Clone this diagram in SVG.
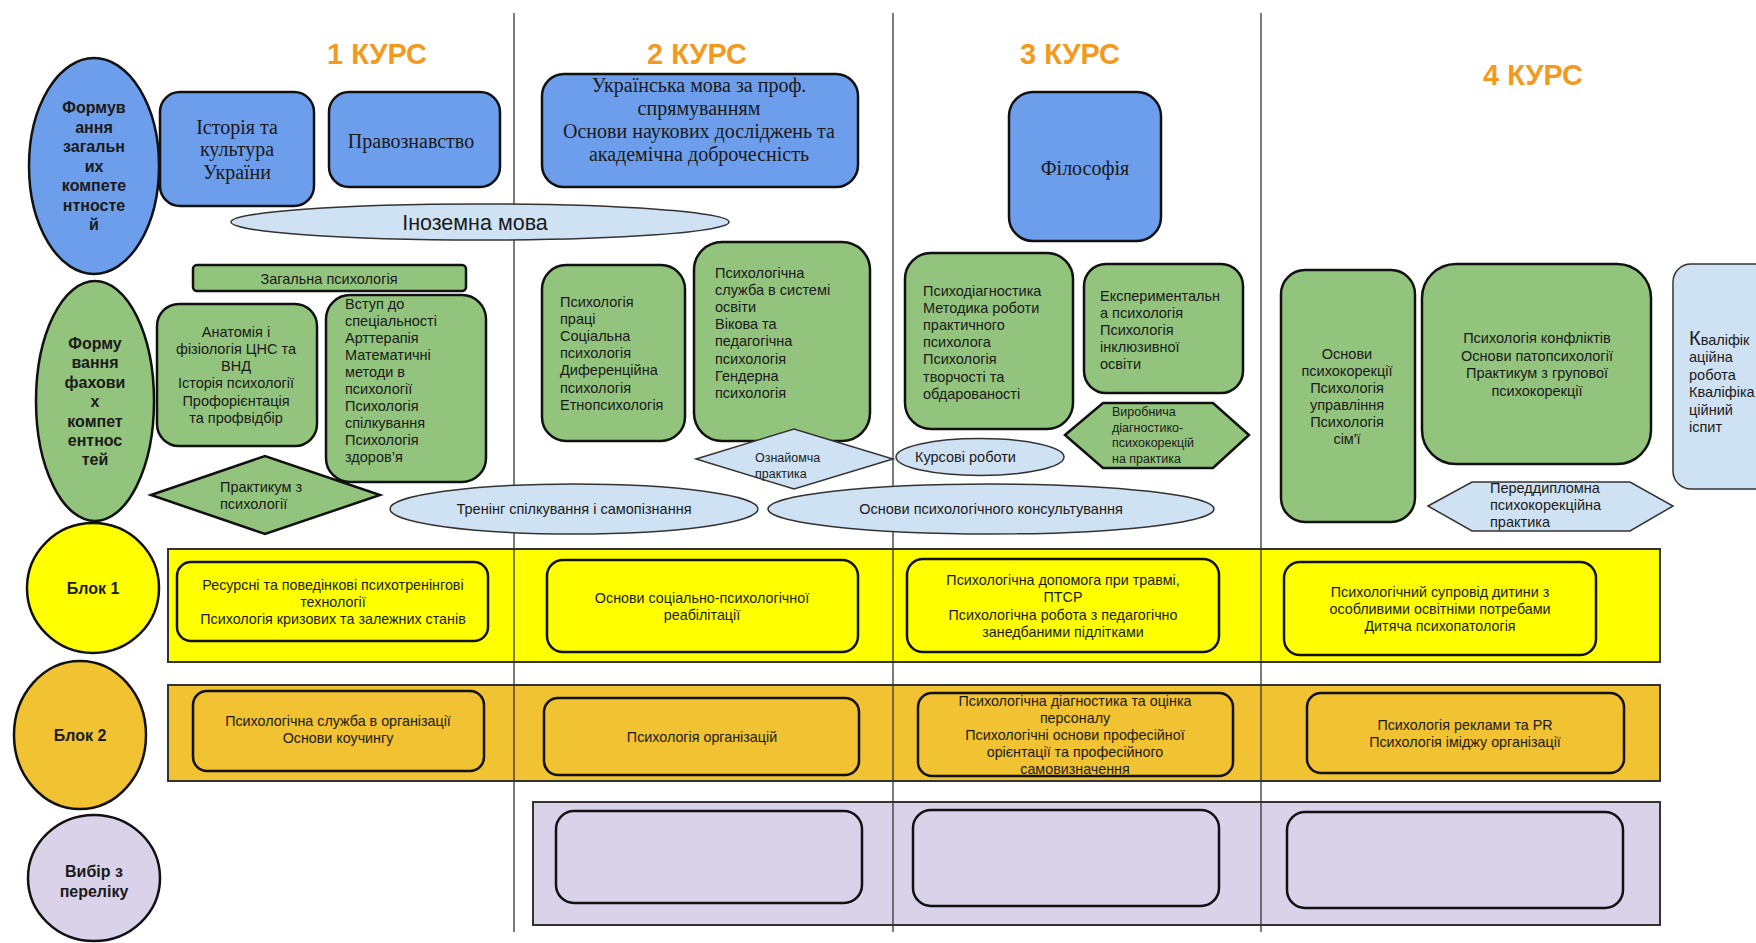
<svg xmlns="http://www.w3.org/2000/svg" width="1756" height="943" viewBox="0 0 1756 943">
<style>
.s{font-family:"Liberation Sans",Arial,sans-serif;font-size:14.5px;fill:#1a1a1a}
.sm{font-size:12.5px}
.blk{font-size:14.3px}
.lbl{font-size:16px}
.sf{font-family:"Liberation Serif","Times New Roman",serif;font-size:20px;fill:#1a1a1a}
.b{font-weight:bold}
.c{text-anchor:middle}
.ttl{font-family:"Liberation Sans",Arial,sans-serif;font-weight:bold;font-size:30px;fill:#f39a1e;text-anchor:middle}
.blue{fill:#6d9eeb;stroke:#111;stroke-width:2.5}
.green{fill:#93c47d;stroke:#111;stroke-width:2.5}
.lb{fill:#cfe2f3;stroke:#333;stroke-width:1.5}
.yel{fill:#ffff00;stroke:#111;stroke-width:2.5}
.org{fill:#f1c232;stroke:#111;stroke-width:2.5}
.lav{fill:#d9d2e9;stroke:#111;stroke-width:2.5}
.band{stroke:#333;stroke-width:2}
.vl{stroke:#333;stroke-width:1.3}
</style>

<g id="titles">
<text class="ttl" x="377" y="64" textLength="100" lengthAdjust="spacingAndGlyphs">1 КУРС</text>
<text class="ttl" x="697" y="64" textLength="100" lengthAdjust="spacingAndGlyphs">2 КУРС</text>
<text class="ttl" x="1070" y="64" textLength="100" lengthAdjust="spacingAndGlyphs">3 КУРС</text>
<text class="ttl" x="1533" y="85" textLength="100" lengthAdjust="spacingAndGlyphs">4 КУРС</text>
</g>

<g id="bands">
<rect id="band-blok1" class="band" x="168" y="549" width="1492" height="113" fill="#ffff00"/>
<rect id="band-blok2" class="band" x="168" y="685" width="1492" height="96" fill="#f1c232"/>
<rect id="band-vybir" class="band" x="533" y="802" width="1127" height="123" fill="#d9d2e9"/>
</g>

<g id="connectors">
<line class="vl" x1="514" y1="13" x2="514" y2="932"/>
<line class="vl" x1="893" y1="13" x2="893" y2="932"/>
<line class="vl" x1="1261" y1="13" x2="1261" y2="932"/>
</g>

<g id="row-labels">
<g id="zagalni">
<ellipse class="blue" cx="94" cy="166" rx="65" ry="108"/>
<text class="s lbl b c" x="94" y="113"><tspan x="94">Формув</tspan><tspan x="94" dy="19.5">ання</tspan><tspan x="94" dy="19.5">загальн</tspan><tspan x="94" dy="19.5">их</tspan><tspan x="94" dy="19.5">компете</tspan><tspan x="94" dy="19.5">нтносте</tspan><tspan x="94" dy="19.5">й</tspan></text>
</g>
<g id="fakhovi">
<ellipse class="green" cx="95" cy="401" rx="59" ry="120"/>
<text class="s lbl b c" x="95" y="349"><tspan x="95">Форму</tspan><tspan x="95" dy="19.4">вання</tspan><tspan x="95" dy="19.4">фахови</tspan><tspan x="95" dy="19.4">х</tspan><tspan x="95" dy="19.4">компет</tspan><tspan x="95" dy="19.4">ентнос</tspan><tspan x="95" dy="19.4">тей</tspan></text>
</g>
<g id="blok1">
<ellipse class="yel" cx="93" cy="588" rx="66" ry="65"/>
<text class="s lbl b c" x="93" y="594">Блок 1</text>
</g>
<g id="blok2">
<ellipse class="org" cx="80" cy="735" rx="66" ry="74"/>
<text class="s lbl b c" x="80" y="741">Блок 2</text>
</g>
<g id="vybir">
<ellipse class="lav" cx="94" cy="878" rx="66" ry="63"/>
<text class="s lbl b c" x="94" y="877"><tspan x="94">Вибір з</tspan><tspan x="94" dy="20">переліку</tspan></text>
</g>
</g>

<g id="istoriya">
<rect class="blue" x="160" y="92" width="154" height="114" rx="20"/>
<text class="sf c" x="237" y="133.5"><tspan x="237">Історія та</tspan><tspan x="237" dy="22.5">культура</tspan><tspan x="237" dy="22.5">України</tspan></text>
</g>
<g id="pravoznavstvo">
<rect class="blue" x="329" y="92" width="171" height="95" rx="20"/>
<text class="sf c" x="411" y="147.5">Правознавство</text>
</g>
<g id="ukr-mova">
<rect class="blue" x="542" y="74" width="316" height="113" rx="22"/>
<text class="sf c" x="699" y="91.5"><tspan x="699">Українська мова за проф.</tspan><tspan x="699" dy="23.3">спрямуванням</tspan><tspan x="699" dy="23.3">Основи наукових досліджень та</tspan><tspan x="699" dy="23.3">академічна доброчесність</tspan></text>
</g>
<g id="filosofiya">
<rect class="blue" x="1009" y="92" width="152" height="149" rx="24"/>
<text class="sf c" x="1085" y="174.5">Філософія</text>
</g>
<g id="inozemna">
<ellipse class="lb" cx="480" cy="222" rx="249" ry="18"/>
<text class="s c" style="font-size:21.5px" x="475" y="230">Іноземна мова</text>
</g>

<g id="zagalna-psykh">
<rect class="green" x="193" y="265" width="273" height="26" rx="4"/>
<text class="s c" x="329" y="284">Загальна психологія</text>
</g>
<g id="anatomiya">
<rect class="green" x="157" y="304" width="160" height="142" rx="22"/>
<text class="s c" x="236" y="336.5"><tspan x="236">Анатомія і</tspan><tspan x="236" dy="17.3">фізіологія ЦНС та</tspan><tspan x="236" dy="17.3">ВНД</tspan><tspan x="236" dy="17.3">Історія психології</tspan><tspan x="236" dy="17.3">Профорієнтація</tspan><tspan x="236" dy="17.3">та профвідбір</tspan></text>
</g>
<g id="vstup">
<rect class="green" x="326" y="295" width="160" height="187" rx="24"/>
<text class="s" x="345" y="308.5"><tspan x="345">Вступ до</tspan><tspan x="345" dy="17.1">спеціальності</tspan><tspan x="345" dy="17.1">Арттерапія</tspan><tspan x="345" dy="17.1">Математичні</tspan><tspan x="345" dy="17.1">методи в</tspan><tspan x="345" dy="17.1">психології</tspan><tspan x="345" dy="17.1">Психологія</tspan><tspan x="345" dy="17.1">спілкування</tspan><tspan x="345" dy="17.1">Психологія</tspan><tspan x="345" dy="17.1">здоров’я</tspan></text>
</g>
<g id="praktykum">
<polygon class="green" points="151,495 265,456 380,495 265,534"/>
<text class="s" x="220" y="492"><tspan x="220">Практикум з</tspan><tspan x="220" dy="17">психології</tspan></text>
</g>

<g id="psykh-pratsi">
<rect class="green" x="542" y="265" width="143" height="176" rx="24"/>
<text class="s" x="560" y="307"><tspan x="560">Психологія</tspan><tspan x="560" dy="17.1">праці</tspan><tspan x="560" dy="17.1">Соціальна</tspan><tspan x="560" dy="17.1">психологія</tspan><tspan x="560" dy="17.1">Диференційна</tspan><tspan x="560" dy="17.1">психологія</tspan><tspan x="560" dy="17.1">Етнопсихологія</tspan></text>
</g>
<g id="psykh-sluzhba">
<rect class="green" x="694" y="242" width="176" height="199" rx="28"/>
<text class="s" x="715" y="278"><tspan x="715">Психологічна</tspan><tspan x="715" dy="17.1">служба в системі</tspan><tspan x="715" dy="17.1">освіти</tspan><tspan x="715" dy="17.1">Вікова та</tspan><tspan x="715" dy="17.1">педагогічна</tspan><tspan x="715" dy="17.1">психологія</tspan><tspan x="715" dy="17.1">Гендерна</tspan><tspan x="715" dy="17.1">психологія</tspan></text>
</g>
<g id="oznaiomcha">
<polygon class="lb" points="696,459 794,429 893,459 794,489"/>
<text class="s sm" x="755" y="462"><tspan x="755">Ознайомча</tspan><tspan x="755" dy="16">практика</tspan></text>
</g>

<g id="psykhodiagnostyka">
<rect class="green" x="905" y="253" width="168" height="176" rx="26"/>
<text class="s" x="923" y="296"><tspan x="923">Психодіагностика</tspan><tspan x="923" dy="17.1">Методика роботи</tspan><tspan x="923" dy="17.1">практичного</tspan><tspan x="923" dy="17.1">психолога</tspan><tspan x="923" dy="17.1">Психологія</tspan><tspan x="923" dy="17.1">творчості та</tspan><tspan x="923" dy="17.1">обдарованості</tspan></text>
</g>
<g id="eksperymentalna">
<rect class="green" x="1084" y="264" width="159" height="129" rx="22"/>
<text class="s" x="1100" y="301"><tspan x="1100">Експериментальн</tspan><tspan x="1100" dy="17.1">а психологія</tspan><tspan x="1100" dy="17.1">Психологія</tspan><tspan x="1100" dy="17.1">інклюзивної</tspan><tspan x="1100" dy="17.1">освіти</tspan></text>
</g>
<g id="vyrobnycha">
<polygon class="green" points="1065,435 1103,403 1213,403 1249,435 1213,468 1103,468"/>
<text class="s sm" x="1112" y="416"><tspan x="1112">Виробнича</tspan><tspan x="1112" dy="15.7">діагностико-</tspan><tspan x="1112" dy="15.7">психокорекцій</tspan><tspan x="1112" dy="15.7">на практика</tspan></text>
</g>
<g id="kursovi">
<ellipse class="lb" cx="980" cy="457" rx="84" ry="18.5"/>
<text class="s" x="915" y="462">Курсові роботи</text>
</g>
<g id="trening">
<ellipse class="lb" cx="574" cy="509" rx="184" ry="25"/>
<text class="s c" x="574" y="514">Тренінг спілкування і самопізнання</text>
</g>
<g id="konsultuvannya">
<ellipse class="lb" cx="991" cy="509" rx="223" ry="25"/>
<text class="s c" x="991" y="514">Основи психологічного консультування</text>
</g>

<g id="psykhokorektsiya">
<rect class="green" x="1281" y="270" width="134" height="252" rx="24"/>
<text class="s c" x="1347" y="359"><tspan x="1347">Основи</tspan><tspan x="1347" dy="17">психокорекції</tspan><tspan x="1347" dy="17">Психологія</tspan><tspan x="1347" dy="17">управління</tspan><tspan x="1347" dy="17">Психологія</tspan><tspan x="1347" dy="17">сім'ї</tspan></text>
</g>
<g id="konflikty">
<rect class="green" x="1422" y="264" width="229" height="200" rx="34"/>
<text class="s c" x="1537" y="343"><tspan x="1537">Психологія конфліктів</tspan><tspan x="1537" dy="17.6">Основи патопсихології</tspan><tspan x="1537" dy="17.6">Практикум з групової</tspan><tspan x="1537" dy="17.6">психокорекції</tspan></text>
</g>
<g id="kvalifikatsiina">
<rect class="lb" x="1673" y="264" width="100" height="225" rx="18"/>
<text class="s" x="1689" y="345"><tspan x="1689" style="font-size:20px">К</tspan><tspan>валіфік</tspan><tspan x="1689" dy="17.4">аційна</tspan><tspan x="1689" dy="17.4">робота</tspan><tspan x="1689" dy="17.4">Кваліфіка</tspan><tspan x="1689" dy="17.4">ційний</tspan><tspan x="1689" dy="17.4">іспит</tspan></text>
</g>
<g id="pereddyplomna">
<polygon class="lb" points="1428,506 1472,482 1630,482 1673,506 1630,531 1472,531"/>
<text class="s" x="1490" y="493"><tspan x="1490">Переддипломна</tspan><tspan x="1490" dy="17">психокорекційна</tspan><tspan x="1490" dy="17">практика</tspan></text>
</g>

<g id="b1-1">
<rect class="yel" x="177" y="562" width="311" height="79" rx="14"/>
<text class="s blk c" x="333" y="590"><tspan x="333">Ресурсні та поведінкові психотренінгові</tspan><tspan x="333" dy="17">технології</tspan><tspan x="333" dy="17">Психологія кризових та залежних станів</tspan></text>
</g>
<g id="b1-2">
<rect class="yel" x="547" y="560" width="311" height="92" rx="16"/>
<text class="s blk c" x="702" y="603"><tspan x="702">Основи соціально-психологічної</tspan><tspan x="702" dy="17">реабілітації</tspan></text>
</g>
<g id="b1-3">
<rect class="yel" x="907" y="559" width="312" height="93" rx="16"/>
<text class="s blk c" x="1063" y="585"><tspan x="1063">Психологічна допомога при травмі,</tspan><tspan x="1063" dy="17.3">ПТСР</tspan><tspan x="1063" dy="17.3">Психологічна робота з педагогічно</tspan><tspan x="1063" dy="17.3">занедбаними підлітками</tspan></text>
</g>
<g id="b1-4">
<rect class="yel" x="1284" y="562" width="312" height="93" rx="16"/>
<text class="s blk c" x="1440" y="597"><tspan x="1440">Психологічний супровід дитини з</tspan><tspan x="1440" dy="17">особливими освітніми потребами</tspan><tspan x="1440" dy="17">Дитяча психопатологія</tspan></text>
</g>

<g id="b2-1">
<rect class="org" x="193" y="691" width="291" height="80" rx="14"/>
<text class="s blk c" x="338" y="726"><tspan x="338">Психологічна служба в організації</tspan><tspan x="338" dy="17">Основи коучингу</tspan></text>
</g>
<g id="b2-2">
<rect class="org" x="544" y="698" width="315" height="77" rx="14"/>
<text class="s blk c" x="702" y="742">Психологія організацій</text>
</g>
<g id="b2-3">
<rect class="org" x="918" y="693" width="315" height="83" rx="14"/>
<text class="s blk c" x="1075" y="706"><tspan x="1075">Психологічна діагностика та оцінка</tspan><tspan x="1075" dy="17">персоналу</tspan><tspan x="1075" dy="17">Психологічні основи професійної</tspan><tspan x="1075" dy="17">орієнтації та професійного</tspan><tspan x="1075" dy="17">самовизначення</tspan></text>
</g>
<g id="b2-4">
<rect class="org" x="1307" y="693" width="317" height="80" rx="14"/>
<text class="s blk c" x="1465" y="730"><tspan x="1465">Психологія реклами та PR</tspan><tspan x="1465" dy="17">Психологія іміджу організації</tspan></text>
</g>

<g id="v-1"><rect class="lav" x="556" y="811" width="306" height="92" rx="18"/></g>
<g id="v-2"><rect class="lav" x="913" y="810" width="306" height="96" rx="18"/></g>
<g id="v-3"><rect class="lav" x="1287" y="812" width="336" height="96" rx="18"/></g>
</svg>
